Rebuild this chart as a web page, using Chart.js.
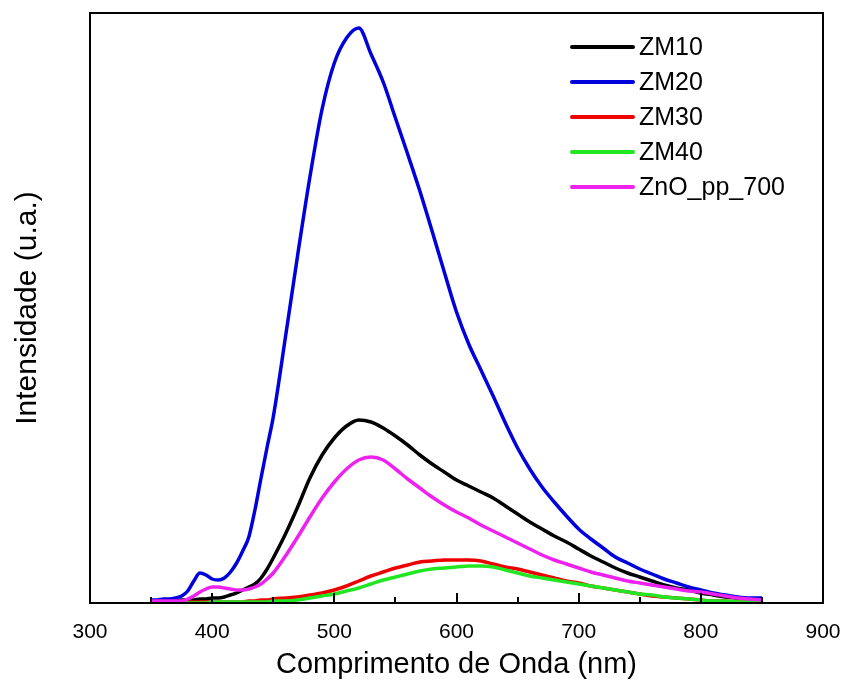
<!DOCTYPE html>
<html>
<head>
<meta charset="utf-8">
<script src="https://cdn.jsdelivr.net/npm/chart.js@4/dist/chart.umd.min.js"></script>
<style>
  html, body { margin: 0; padding: 0; background: #ffffff; }
  #c { display: block; }
</style>
</head>
<body>
<canvas id="c" width="844" height="686"></canvas>
<script>
// ---- data ----
const wavelength = [
  350,355,360,365,370,375,380,385,390,395,400,405,410,415,420,425,430,435,440,445,450,
  460,470,480,490,500,510,520,530,540,550,
  560,570,580,590,600,610,620,630,640,650,
  660,670,680,690,700,710,720,730,740,750,
  760,770,780,790,800,810,820,830,840,850
];
const seriesNames = ["ZM10", "ZM20", "ZM30", "ZM40", "ZnO_pp_700"];
const zm10 = [
  2,2,2,2,2,3,3,3,4,4,5,5,6,8,10,13,16,19,25,34,45,
  69,96,125,148,165,177,183,181,175,167,
  158,148,139,131,123,117,111,105,97,89,
  81,74,67,61,54,47,41,35,30,26,
  22,18,15,13,10,8,6,5,4,3
];
const zm20 = [
  3,3,4,4,5,7,12,22,30,28,24,23,25,31,40,52,66,93,125,156,186,
  266,348,426,494,540,565,575,549,521,485,
  449,412,372,331,291,259,233,207,180,155,
  134,116,101,87,74,64,55,46,40,34,
  29,24,20,16,13,10,8,6,5,5
];
const zm30 = [
  1,1,1,1,1,1,1,1,1,1,1,1,1,1,1,1,2,2,3,3,4,
  5,6,8,10,13,17,22,27,31,35,
  38,41,42,43,43,43,42,39,36,34,
  31,28,25,22,20,17,15,13,11,9,
  7,6,5,4,3,2,2,1,1,1
];
const zm40 = [
  0,0,0,0,0,0,0,0,0,0,1,1,1,1,1,1,1,1,1,1,2,
  2,3,5,7,9,12,15,19,23,26,
  29,32,34,35,36,37,37,36,33,30,
  27,25,23,21,19,17,15,13,11,9,
  8,6,5,4,3,2,2,1,1,1
];
const znoPP700 = [
  2,2,2,2,2,2,4,7,11,14,16,16,15,14,13,13,14,16,19,24,30,
  47,66,86,105,121,134,143,146,143,134,
  124,115,106,98,91,85,78,72,66,60,
  54,48,43,39,35,31,28,25,22,20,
  18,16,14,12,11,9,7,5,4,3
];
const xMajorTicks = [300,400,500,600,700,800,900];
const xMinorTicks = [350,450,550,650,750,850];
const xTitle = "Comprimento de Onda (nm)";
const yTitle = "Intensidade (u.a.)";

// ---- styles ----
const colors = ["#000000", "#0000dd", "#ee0000", "#22e622", "#ee22ee"];
const FONT = '"Liberation Sans", Arial, Helvetica, sans-serif';
Chart.defaults.font.family = FONT;
Chart.defaults.color = "#000000";

const allSeries = [zm10, zm20, zm30, zm40, znoPP700];
const datasets = allSeries.map((vals, i) => ({
  label: seriesNames[i],
  data: wavelength.map((w, k) => ({ x: w, y: vals[k] })),
  borderColor: colors[i],
  backgroundColor: colors[i],
  borderWidth: 3.5,
  pointRadius: 0,
  fill: false,
  cubicInterpolationMode: "monotone",
  order: allSeries.length - i
}));

const framePlugin = {
  id: "frameAndTicks",
  afterDatasetsDraw(chart) {
    const ctx = chart.ctx;
    const a = chart.chartArea;
    const xs = chart.scales.x;
    ctx.save();
    ctx.strokeStyle = "#000000";
    ctx.lineWidth = 2;
    ctx.strokeRect(a.left, a.top, a.right - a.left, a.bottom - a.top);
    ctx.lineWidth = 2;
    ctx.beginPath();
    xMajorTicks.forEach(v => {
      const px = Math.round(xs.getPixelForValue(v));
      ctx.moveTo(px, a.bottom);
      ctx.lineTo(px, a.bottom - 10);
    });
    xMinorTicks.forEach(v => {
      const px = Math.round(xs.getPixelForValue(v));
      ctx.moveTo(px, a.bottom);
      ctx.lineTo(px, a.bottom - 6);
    });
    ctx.stroke();

    // legend
    const lx0 = 572, lx1 = 633, tx = 639, y0 = 47, dy = 35;
    ctx.font = "25px " + FONT;
    ctx.textBaseline = "middle";
    ctx.textAlign = "left";
    chart.data.datasets.forEach((ds, i) => {
      const y = y0 + i * dy;
      ctx.strokeStyle = ds.borderColor;
      ctx.lineWidth = 4;
      ctx.lineCap = "round";
      ctx.beginPath();
      ctx.moveTo(lx0, y);
      ctx.lineTo(lx1, y);
      ctx.stroke();
      ctx.fillStyle = "#000000";
      ctx.fillText(ds.label, tx, y + 1);
    });
    ctx.restore();
  }
};

new Chart(document.getElementById("c"), {
  type: "line",
  data: { datasets },
  options: {
    responsive: false,
    devicePixelRatio: 1,
    animation: false,
    layout: { padding: { top: 13, right: 21, left: 0, bottom: 0 } },
    plugins: { legend: { display: false }, tooltip: { enabled: false } },
    scales: {
      x: {
        type: "linear",
        min: 300,
        max: 900,
        grid: { display: false },
        border: { display: false },
        ticks: { stepSize: 100, font: { size: 21 }, padding: 9, color: "#000000" },
        title: { display: true, text: xTitle, font: { size: 29 }, padding: { top: 0, bottom: 4 }, color: "#000000" },
        afterFit(scale) { scale.height = 83; scale.paddingLeft = 0; scale.paddingRight = 0; }
      },
      y: {
        min: 0,
        max: 590,
        grid: { display: false },
        border: { display: false },
        ticks: { display: false },
        title: { display: true, text: yTitle, font: { size: 30 }, padding: { top: 10, bottom: 0 }, color: "#000000" },
        afterFit(scale) { scale.width = 90; scale.paddingTop = 0; scale.paddingBottom = 0; }
      }
    }
  },
  plugins: [framePlugin]
});
</script>
</body>
</html>
